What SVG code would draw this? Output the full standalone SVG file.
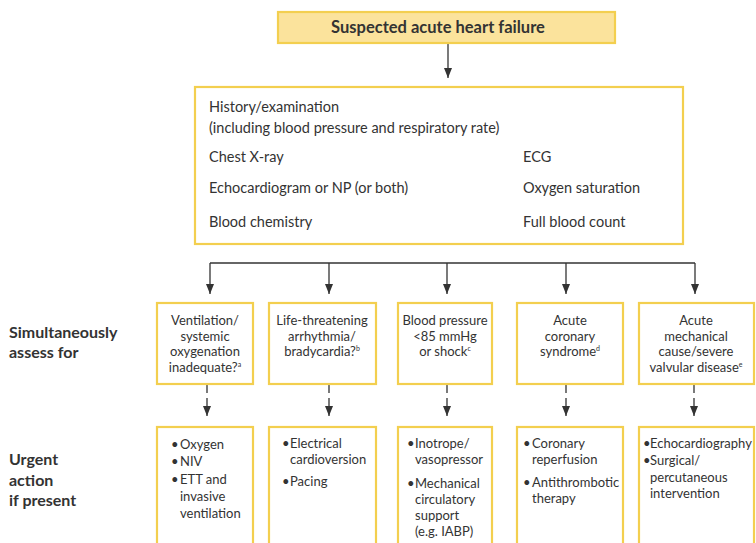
<svg xmlns="http://www.w3.org/2000/svg" width="756" height="543" viewBox="0 0 756 543">
<defs>
<marker id="ah" markerUnits="userSpaceOnUse" markerWidth="10" markerHeight="10" viewBox="0 0 10 10" refX="10" refY="5" orient="auto">
<path d="M0,1 L10,5 L0,9 Z" fill="#333"/>
</marker>
</defs>
<style>
.box{fill:#fff;stroke:#F3CF4F;stroke-width:2.2}
.top{fill:#FBE39C;stroke:#F3CF4F;stroke-width:2.2}
.t{font-family:Lato,"Liberation Sans",sans-serif;font-size:13px;fill:#333}
.m{font-size:14.5px}
.c{text-anchor:middle}
.b{font-weight:bold}
.lab{font-size:16px}
.sup{font-size:7px}
.ln{stroke:#333;stroke-width:1.3;fill:none}
.dl{stroke:#333;stroke-width:1.3;fill:none;stroke-dasharray:8 5}
</style>
<rect width="756" height="543" fill="#fff"/>

<g id="connectors">
<line class="ln" x1="448" y1="43" x2="448" y2="78" marker-end="url(#ah)"/>
<line class="ln" x1="210" y1="263" x2="695" y2="263"/>
<line class="ln" x1="210" y1="263" x2="210" y2="294" marker-end="url(#ah)"/>
<line class="ln" x1="329" y1="263" x2="329" y2="294" marker-end="url(#ah)"/>
<line class="ln" x1="447" y1="263" x2="447" y2="294" marker-end="url(#ah)"/>
<line class="ln" x1="566" y1="263" x2="566" y2="294" marker-end="url(#ah)"/>
<line class="ln" x1="695" y1="263" x2="695" y2="294" marker-end="url(#ah)"/>
<line class="dl" x1="207" y1="385" x2="207" y2="416" marker-end="url(#ah)"/>
<line class="dl" x1="329" y1="385" x2="329" y2="416" marker-end="url(#ah)"/>
<line class="dl" x1="447" y1="385" x2="447" y2="416" marker-end="url(#ah)"/>
<line class="dl" x1="566" y1="385" x2="566" y2="416" marker-end="url(#ah)"/>
<line class="dl" x1="694" y1="385" x2="694" y2="416" marker-end="url(#ah)"/>
</g>

<g id="start">
<rect class="top" x="278" y="12" width="337" height="31"/>
<text class="t c b" x="438" y="33" style="font-size:16.5px">Suspected acute heart failure</text>
</g>

<g id="workup">
<rect class="box" x="195" y="87" width="488" height="157"/>
<text class="t m" x="209" y="112">History/examination</text>
<text class="t m" x="209" y="133">(including blood pressure and respiratory rate)</text>
<text class="t m" x="209" y="162">Chest X-ray</text>
<text class="t m" x="209" y="193">Echocardiogram or NP (or both)</text>
<text class="t m" x="209" y="227">Blood chemistry</text>
<text class="t m" x="523" y="162">ECG</text>
<text class="t m" x="523" y="193">Oxygen saturation</text>
<text class="t m" x="523" y="227">Full blood count</text>
</g>

<g id="label-assess">
<text class="t b lab" x="9" y="338">Simultaneously</text>
<text class="t b lab" x="9" y="358">assess for</text>
</g>
<g id="label-action">
<text class="t b lab" x="9" y="465">Urgent</text>
<text class="t b lab" x="9" y="486">action</text>
<text class="t b lab" x="9" y="506">if present</text>
</g>

<g id="assess-1">
<rect class="box" x="157" y="303" width="96" height="81"/>
<text class="t c" x="205" y="325">Ventilation/</text>
<text class="t c" x="205" y="341">systemic</text>
<text class="t c" x="205" y="356">oxygenation</text>
<text class="t c" x="205" y="372">inadequate?<tspan class="sup" dy="-5">a</tspan></text>
</g>
<g id="assess-2">
<rect class="box" x="269" y="303" width="107" height="81"/>
<text class="t c" x="322" y="325">Life-threatening</text>
<text class="t c" x="322" y="341">arrhythmia/</text>
<text class="t c" x="322" y="356">bradycardia?<tspan class="sup" dy="-5">b</tspan></text>
</g>
<g id="assess-3">
<rect class="box" x="398" y="303" width="94" height="81"/>
<text class="t c" x="445" y="325">Blood pressure</text>
<text class="t c" x="445" y="341">&lt;85 mmHg</text>
<text class="t c" x="445" y="356">or shock<tspan class="sup" dy="-5">c</tspan></text>
</g>
<g id="assess-4">
<rect class="box" x="517" y="303" width="106" height="81"/>
<text class="t c" x="570" y="325">Acute</text>
<text class="t c" x="570" y="341">coronary</text>
<text class="t c" x="570" y="356">syndrome<tspan class="sup" dy="-5">d</tspan></text>
</g>
<g id="assess-5">
<rect class="box" x="639" y="303" width="115" height="81"/>
<text class="t c" x="696" y="325">Acute</text>
<text class="t c" x="696" y="341">mechanical</text>
<text class="t c" x="696" y="356">cause/severe</text>
<text class="t c" x="696" y="372">valvular disease<tspan class="sup" dy="-5">e</tspan></text>
</g>

<g id="action-1">
<rect class="box" x="157" y="427" width="96" height="130"/>
<text class="t" x="171" y="449">•</text><text class="t" x="180" y="449">Oxygen</text>
<text class="t" x="171" y="466">•</text><text class="t" x="180" y="466">NIV</text>
<text class="t" x="171" y="484">•</text><text class="t" x="180" y="484">ETT and</text>
<text class="t" x="180" y="501">invasive</text>
<text class="t" x="180" y="518">ventilation</text>
</g>
<g id="action-2">
<rect class="box" x="269" y="427" width="107" height="130"/>
<text class="t" x="282" y="448">•</text><text class="t" x="290" y="448">Electrical</text>
<text class="t" x="290" y="464">cardioversion</text>
<text class="t" x="282" y="486">•</text><text class="t" x="290" y="486">Pacing</text>
</g>
<g id="action-3">
<rect class="box" x="398" y="427" width="94" height="130"/>
<text class="t" x="407" y="448">•</text><text class="t" x="415" y="448">Inotrope/</text>
<text class="t" x="415" y="464">vasopressor</text>
<text class="t" x="407" y="488">•</text><text class="t" x="415" y="488">Mechanical</text>
<text class="t" x="415" y="504">circulatory</text>
<text class="t" x="415" y="520">support</text>
<text class="t" x="415" y="536">(e.g. IABP)</text>
</g>
<g id="action-4">
<rect class="box" x="517" y="427" width="106" height="130"/>
<text class="t" x="523" y="448">•</text><text class="t" x="532" y="448">Coronary</text>
<text class="t" x="532" y="464">reperfusion</text>
<text class="t" x="523" y="487">•</text><text class="t" x="532" y="487">Antithrombotic</text>
<text class="t" x="532" y="503">therapy</text>
</g>
<g id="action-5">
<rect class="box" x="639" y="427" width="115" height="130"/>
<text class="t" x="643" y="448">•</text><text class="t" x="650" y="448">Echocardiography</text>
<text class="t" x="643" y="465">•</text><text class="t" x="650" y="465">Surgical/</text>
<text class="t" x="650" y="482">percutaneous</text>
<text class="t" x="650" y="498">intervention</text>
</g>
</svg>
